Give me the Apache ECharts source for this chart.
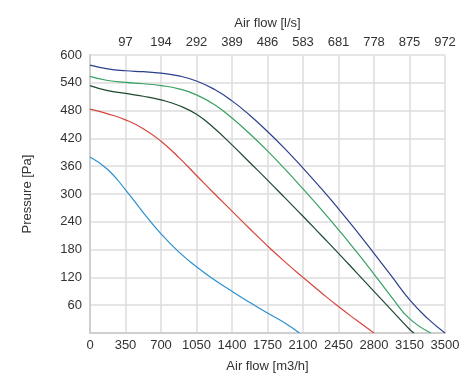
<!DOCTYPE html>
<html>
<head>
<meta charset="utf-8">
<script src="https://cdn.jsdelivr.net/npm/echarts@6/dist/echarts.min.js"></script>
<style>
html,body{margin:0;padding:0;background:#fff;}
#chart{width:466px;height:378px;}
</style>
</head>
<body>
<div id="chart"></div>
<script>
// Air flow [m3/h] sample positions and pressure [Pa] per curve
const navyX = [0,175,350,525,700,875,1050,1225,1400,1575,1750,1925,2100,2275,2450,2625,2800,2975,3150,3325,3500];
const navyY = [578,570,566,564,561,555,544,526,501,470,435,397,356,313,268,221,172,122,72,32,0];

const greenX = [0,175,350,525,700,875,1050,1225,1400,1575,1750,1925,2100,2275,2450,2625,2800,2975,3150,3360];
const greenY = [554,545,541,538,534,527,514,493,464,430,393,353,311,268,223,176,127,77,31,0];

const darkGreenX = [0,175,350,525,700,875,1050,1225,1400,1575,1750,1925,2100,2275,2450,2625,2800,2975,3150,3195];
const darkGreenY = [534,523,517,511,503,491,472,442,406,368,330,291,252,212,172,131,90,49,8,0];

const redX = [0,175,350,525,700,875,1050,1225,1400,1575,1750,1925,2100,2275,2450,2625,2800];
const redY = [483,473,460,441,414,379,340,301,263,225,188,153,120,88,57,28,0];

const blueX = [0,175,350,525,700,875,1050,1225,1400,1575,1750,1925,2065];
const blueY = [380,353,309,260,214,175,143,115,90,66,43,21,0];

const xTicks = [0,350,700,1050,1400,1750,2100,2450,2800,3150,3500];
const yTicks = [0,60,120,180,240,300,360,420,480,540,600];

function pairs(xs, ys){ return xs.map((x,i)=>[x, ys[i]]); }

const font = 'Arial, "Liberation Sans", sans-serif';
const chart = echarts.init(document.getElementById('chart'), null, {renderer:'canvas'});

function line(name, xs, ys, color){
  return {
    name: name, type:'line', xAxisIndex:0, yAxisIndex:0,
    data: pairs(xs, ys), smooth: 0.5, showSymbol:false, symbol:'none',
    lineStyle:{color: color, width: 1.2}, itemStyle:{color: color},
    animation:false
  };
}

chart.setOption({
  animation:false,
  backgroundColor:'#fff',
  textStyle:{fontFamily: font},
  grid:{left:90, right:21, top:55, bottom:45, containLabel:false},
  xAxis:[{
    type:'value', position:'bottom', min:xTicks[0], max:xTicks[xTicks.length-1], interval:350,
    name:'Air flow [m3/h]', nameLocation:'middle', nameGap:27,
    nameTextStyle:{color:'#333', fontSize:13, fontFamily:font},
    axisLine:{show:true, lineStyle:{color:'#cfcfcf', width:2}},
    axisTick:{show:false},
    axisLabel:{color:'#333', fontSize:13, margin:6, fontFamily:font,
      formatter:function(v){ return String(v); }},
    splitLine:{show:true, lineStyle:{color:'#dcdcdc', width:1.5}}
  },{
    type:'value', position:'top', min:xTicks[0], max:xTicks[xTicks.length-1], interval:350,
    name:'Air flow [l/s]', nameLocation:'middle', nameGap:25,
    nameTextStyle:{color:'#333', fontSize:13, fontFamily:font},
    axisLine:{show:false}, axisTick:{show:false},
    axisLabel:{color:'#333', fontSize:13, margin:6, fontFamily:font,
      formatter:function(v){ return v===0 ? '' : String(Math.round(v/3.6)); }},
    splitLine:{show:false}
  }],
  yAxis:{
    type:'value', min:yTicks[0], max:yTicks[yTicks.length-1], interval:60,
    name:'Pressure [Pa]', nameLocation:'middle', nameGap:56, nameRotate:90,
    nameTextStyle:{color:'#333', fontSize:13, fontFamily:font},
    axisLine:{show:true, lineStyle:{color:'#cfcfcf', width:2}},
    axisTick:{show:false},
    axisLabel:{color:'#333', fontSize:13, margin:8, fontFamily:font,
      formatter:function(v){ return v===0 ? '' : String(v); }},
    splitLine:{show:true, lineStyle:{color:'#dcdcdc', width:1.5}}
  },
  series:[
    line('Curve 1', navyX, navyY, '#2b3f8c'),
    line('Curve 2', greenX, greenY, '#38a062'),
    line('Curve 3', darkGreenX, darkGreenY, '#1d4a30'),
    line('Curve 4', redX, redY, '#d6443c'),
    line('Curve 5', blueX, blueY, '#2b8fd0')
  ]
});
</script>
</body>
</html>
